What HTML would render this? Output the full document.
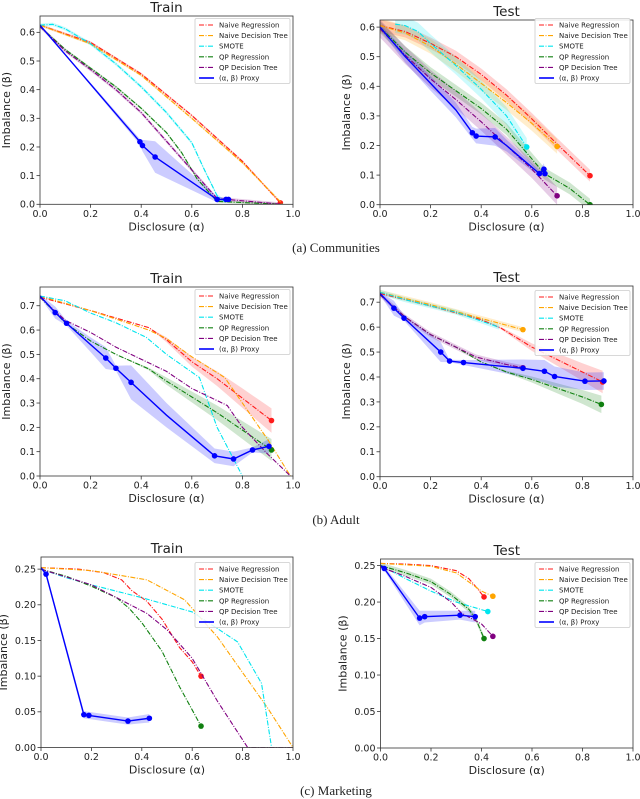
<!DOCTYPE html>
<html><head><meta charset="utf-8"><style>
body{margin:0;background:#fff}
svg{display:block}
text{font-family:"DejaVu Sans","Liberation Sans",sans-serif;fill:#222}
.cap{font-family:"Liberation Serif","DejaVu Serif",serif;font-size:13px}
</style></head><body>
<svg id="fig" width="640" height="799" viewBox="0 0 640 799" xmlns="http://www.w3.org/2000/svg">
<text class="cap" x="336" y="252" text-anchor="middle">(a) Communities</text>
<text class="cap" x="336" y="524" text-anchor="middle">(b) Adult</text>
<text class="cap" x="336" y="795" text-anchor="middle">(c) Marketing</text>
</svg>
<script>
const seriesNames = ["Naive Regression","Naive Decision Tree","SMOTE","QP Regression","QP Decision Tree","(α, β) Proxy"];
const seriesColors = ["#ff1a1a","#ffa500","#00e5ee","#108010","#800080","#0000ff"];
const xTicks = [0,0.2,0.4,0.6,0.8,1.0];
const yTicksA = [0,0.1,0.2,0.3,0.4,0.5,0.6];
const yTicksB = [0,0.1,0.2,0.3,0.4,0.5,0.6,0.7];
const yTicksC = [0,0.05,0.10,0.15,0.20,0.25];

// Communities train
const commTrainRed=[[0,0.625],[0.2,0.565],[0.4,0.455],[0.6,0.31],[0.8,0.15],[0.95,0.005]];
const commTrainOrange=[[0,0.625],[0.2,0.56],[0.4,0.45],[0.6,0.3],[0.8,0.145],[0.96,0]];
const commTrainCyan=[[0,0.625],[0.05,0.628],[0.1,0.612],[0.2,0.56],[0.3,0.49],[0.4,0.41],[0.5,0.32],[0.6,0.215],[0.65,0.12],[0.7,0.03],[0.73,0.01]];
const commTrainGreen=[[0,0.62],[0.1,0.54],[0.2,0.475],[0.3,0.41],[0.4,0.335],[0.5,0.25],[0.56,0.18],[0.62,0.09],[0.7,0.01],[0.96,0]];
const commTrainPurple=[[0,0.62],[0.1,0.535],[0.2,0.47],[0.3,0.4],[0.4,0.32],[0.5,0.22],[0.6,0.12],[0.7,0.02],[0.96,0]];
const commTrainProxy=[[0,0.625],[0.395,0.218],[0.405,0.205],[0.455,0.165],[0.7,0.017],[0.735,0.017],[0.745,0.017]];
const commTrainProxyBand=[0,0.01,0.02,0.055,0.01,0.005,0.005];
const commTrainProxyDots=[0,1,1,1,1,1,1];
const commTrainBands=[0.004,0.004,0.006,0.004,0.006];
const commTrainEnds=[true,false,false,false,false];

// Communities test
const commTestRed=[[0,0.605],[0.1,0.585],[0.2,0.545],[0.3,0.5],[0.4,0.44],[0.5,0.37],[0.6,0.29],[0.7,0.205],[0.83,0.098]];
const commTestOrange=[[0,0.605],[0.1,0.58],[0.2,0.535],[0.3,0.475],[0.4,0.41],[0.5,0.345],[0.6,0.275],[0.7,0.197]];
const commTestCyan=[[0.06,0.61],[0.1,0.605],[0.15,0.585],[0.2,0.545],[0.3,0.47],[0.4,0.39],[0.5,0.3],[0.58,0.195]];
const commTestGreen=[[0,0.6],[0.1,0.515],[0.2,0.445],[0.3,0.385],[0.4,0.325],[0.5,0.255],[0.6,0.155],[0.65,0.105],[0.75,0.055],[0.83,0]];
const commTestPurple=[[0,0.595],[0.1,0.505],[0.2,0.425],[0.3,0.355],[0.4,0.28],[0.5,0.2],[0.6,0.12],[0.7,0.03]];
const commTestProxy=[[0,0.6],[0.1,0.5],[0.2,0.41],[0.3,0.32],[0.365,0.243],[0.38,0.232],[0.455,0.229],[0.5,0.2],[0.63,0.105],[0.648,0.12],[0.652,0.105]];
const commTestProxyBand=[0.01,0.02,0.025,0.025,0.02,0.025,0.03,0.02,0.01,0.02,0.01];
const commTestProxyDots=[0,0,0,0,1,1,1,0,1,1,1];
const commTestBands=[0.02,0.025,0.03,0.02,0.03];
const commTestEnds=[true,true,true,true,true];

// Adult train
const adultTrainRed=[[0,0.735],[0.2,0.68],[0.43,0.61],[0.5,0.56],[0.6,0.47],[0.7,0.4],[0.8,0.32],[0.915,0.228]];
const adultTrainRedBand=[0,0,0,0.01,0.02,0.03,0.04,0.05];
const adultTrainOrange=[[0,0.74],[0.2,0.68],[0.43,0.6],[0.5,0.565],[0.6,0.49],[0.73,0.405],[0.8,0.3],[0.9,0.15],[0.99,0]];
const adultTrainCyan=[[0,0.74],[0.1,0.72],[0.2,0.67],[0.3,0.63],[0.42,0.57],[0.5,0.5],[0.63,0.405],[0.7,0.2],[0.8,0]];
const adultTrainGreen=[[0,0.735],[0.1,0.63],[0.2,0.555],[0.3,0.5],[0.43,0.44],[0.5,0.39],[0.7,0.26],[0.915,0.107]];
const adultTrainGreenBand=[0,0,0,0,0.005,0.015,0.03,0.045];
const adultTrainPurple=[[0,0.735],[0.1,0.64],[0.2,0.59],[0.3,0.53],[0.4,0.48],[0.5,0.43],[0.6,0.36],[0.74,0.29],[0.8,0.2],[0.9,0.09],[0.99,0]];
const adultTrainProxy=[[0,0.74],[0.06,0.672],[0.105,0.628],[0.2,0.54],[0.26,0.485],[0.3,0.443],[0.36,0.385],[0.5,0.25],[0.69,0.083],[0.765,0.07],[0.84,0.107],[0.905,0.122]];
const adultTrainProxyBand=[0.005,0.025,0.01,0.03,0.045,0.01,0.07,0.05,0.03,0.03,0.01,0.03];
const adultTrainProxyDots=[0,1,1,0,1,1,1,0,1,1,1,1];
const adultTrainBands=[adultTrainRedBand,0,0,adultTrainGreenBand,0];
const adultTrainEnds=[true,false,false,true,false];

// Adult test
const adultTestRed=[[0,0.735],[0.2,0.685],[0.4,0.63],[0.48,0.595],[0.6,0.52],[0.7,0.47],[0.8,0.42],[0.88,0.38]];
const adultTestRedBand=[0,0,0,0.005,0.015,0.025,0.035,0.045];
const adultTestOrange=[[0,0.74],[0.2,0.69],[0.4,0.635],[0.565,0.59]];
const adultTestCyan=[[0,0.74],[0.1,0.71],[0.2,0.685],[0.3,0.66],[0.47,0.6]];
const adultTestGreen=[[0,0.73],[0.1,0.64],[0.2,0.57],[0.3,0.52],[0.4,0.46],[0.5,0.42],[0.6,0.39],[0.7,0.355],[0.8,0.32],[0.875,0.29]];
const adultTestGreenBand=[0,0,0,0,0,0.005,0.012,0.02,0.028,0.035];
const adultTestPurple=[[0,0.73],[0.1,0.64],[0.2,0.57],[0.3,0.52],[0.38,0.48],[0.5,0.45],[0.565,0.437]];
const adultTestProxy=[[0,0.735],[0.055,0.676],[0.095,0.636],[0.24,0.5],[0.275,0.464],[0.33,0.458],[0.565,0.435],[0.65,0.423],[0.69,0.402],[0.81,0.383],[0.885,0.384]];
const adultTestProxyBand=[0.005,0.03,0.01,0.04,0.005,0.01,0.035,0.045,0.04,0.035,0.035];
const adultTestProxyDots=[0,1,1,1,1,1,1,1,1,1,1];
const adultTestBands=[adultTestRedBand,0.01,0.01,adultTestGreenBand,0.01];
const adultTestEnds=[true,true,false,true,true];

// Marketing train
const mktTrainRed=[[0,0.252],[0.15,0.25],[0.25,0.245],[0.32,0.235],[0.36,0.22],[0.42,0.205],[0.48,0.18],[0.55,0.14],[0.6,0.12],[0.635,0.1]];
const mktTrainOrange=[[0,0.252],[0.2,0.248],[0.42,0.235],[0.57,0.207],[0.7,0.155],[0.8,0.105],[0.9,0.055],[1.0,0]];
const mktTrainCyan=[[0,0.25],[0.1,0.238],[0.2,0.228],[0.4,0.21],[0.6,0.19],[0.78,0.148],[0.875,0.09],[0.915,0]];
const mktTrainGreen=[[0,0.25],[0.1,0.24],[0.2,0.226],[0.3,0.21],[0.35,0.195],[0.4,0.175],[0.48,0.135],[0.55,0.085],[0.635,0.03]];
const mktTrainPurple=[[0,0.25],[0.2,0.228],[0.3,0.21],[0.42,0.188],[0.5,0.165],[0.6,0.125],[0.7,0.065],[0.82,0],[1.0,0]];
const mktTrainProxy=[[0,0.252],[0.02,0.243],[0.17,0.046],[0.19,0.045],[0.345,0.037],[0.43,0.041]];
const mktTrainProxyBand=[0.002,0.004,0.005,0.005,0.005,0.006];
const mktTrainProxyDots=[0,1,1,1,1,1];
const mktTrainBands=[0.002,0.001,0.001,0.001,0.001];
const mktTrainEnds=[true,false,false,true,false];

// Marketing test
const mktTestRed=[[0,0.253],[0.1,0.252],[0.2,0.25],[0.3,0.243],[0.35,0.232],[0.38,0.22],[0.41,0.207]];
const mktTestOrange=[[0,0.253],[0.2,0.249],[0.3,0.24],[0.36,0.225],[0.4,0.215],[0.445,0.208]];
const mktTestCyan=[[0.04,0.243],[0.1,0.232],[0.2,0.215],[0.3,0.2],[0.425,0.187]];
const mktTestGreen=[[0,0.25],[0.1,0.24],[0.2,0.228],[0.28,0.21],[0.35,0.19],[0.38,0.175],[0.41,0.15]];
const mktTestPurple=[[0,0.248],[0.1,0.235],[0.2,0.22],[0.28,0.2],[0.32,0.185],[0.4,0.17],[0.445,0.153]];
const mktTestProxy=[[0,0.25],[0.015,0.246],[0.155,0.178],[0.175,0.18],[0.315,0.182],[0.375,0.18]];
const mktTestProxyBand=[0.002,0.003,0.01,0.008,0.006,0.008];
const mktTestProxyDots=[0,1,1,1,1,1];
const mktTestBands=[0.003,0.003,0.002,0.004,0.003];
const mktTestEnds=[true,true,true,true,true];

const NS="http://www.w3.org/2000/svg";
const svg=document.getElementById('fig');
function mk(tag,attrs,parent){const e=document.createElementNS(NS,tag);for(const k in attrs)e.setAttribute(k,attrs[k]);(parent||svg).appendChild(e);return e;}

function panel(cfg){
  const {L,R,T,B,ymax,yTicks,dec,title,key,series,bands,ends,proxy,proxyBand,proxyDots,legY}=cfg;
  const g=mk('g',{});
  
  
  const sx=v=>L+(R-L)*v, sy=v=>B-(B-T)*v/ymax;
  const clipId='clip-'+key;
  const cp=mk('clipPath',{id:clipId},g);mk('rect',{x:L,y:T,width:R-L,height:B-T},cp);
  const plot=mk('g',{'clip-path':'url(#'+clipId+')'},g);
  series.forEach((pts,i)=>{
    const bw=bands[i];
    const wAt=j=>Array.isArray(bw)?bw[j]:bw;
    if(!Array.isArray(bw)&&(!bw||bw<0.0035))return;
    const up=pts.map((p,j)=>sx(p[0])+','+sy(p[1]+wAt(j))), dn=pts.map((p,j)=>sx(p[0])+','+sy(p[1]-wAt(j))).reverse();
    const b=mk('polygon',{points:up.concat(dn).join(' '),fill:seriesColors[i],'fill-opacity':0.2,stroke:'none'},plot);
    
    
  });
  {
    const up=proxy.map((p,j)=>sx(p[0])+','+sy(p[1]+proxyBand[j])), dn=proxy.map((p,j)=>sx(p[0])+','+sy(p[1]-proxyBand[j])).reverse();
    const b=mk('polygon',{points:up.concat(dn).join(' '),fill:'#0000ff','fill-opacity':0.2,stroke:'none'},plot);
    
    
  }
  series.forEach((pts,i)=>{
    const l=mk('polyline',{points:pts.map(p=>sx(p[0])+','+sy(p[1])).join(' '),fill:'none',stroke:seriesColors[i],'stroke-width':1.1,'stroke-dasharray':'5,1.5,1,1.5'},plot);
    
    
    if(ends[i]){const p=pts[pts.length-1];
      const m=mk('circle',{cx:sx(p[0]),cy:sy(p[1]),r:2.8,fill:seriesColors[i]},plot);
      
      }
  });
  const pl=mk('polyline',{points:proxy.map(p=>sx(p[0])+','+sy(p[1])).join(' '),fill:'none',stroke:'#0000ff','stroke-width':1.4},plot);
  
  
  proxy.forEach((p,j)=>{ if(!proxyDots[j])return;
    const m=mk('circle',{cx:sx(p[0]),cy:sy(p[1]),r:2.8,fill:'#0000ff'},plot);
    
    });
  const fr=mk('rect',{x:L,y:T,width:R-L,height:B-T,fill:'none',stroke:'#333','stroke-width':0.8},g);
  
  
  xTicks.forEach(v=>{
    mk('line',{x1:sx(v),x2:sx(v),y1:B,y2:B+3.5,stroke:'#333','stroke-width':0.8},g);
    const t=mk('text',{x:sx(v),y:B+12.5,'text-anchor':'middle','font-size':9.5},g);t.textContent=v.toFixed(1);
    
    
  });
  yTicks.forEach(v=>{
    mk('line',{x1:L-3.5,x2:L,y1:sy(v),y2:sy(v),stroke:'#333','stroke-width':0.8},g);
    const t=mk('text',{x:L-5,y:sy(v)+3.4,'text-anchor':'end','font-size':9.5},g);t.textContent=v.toFixed(dec);
    
    
  });
  const xt=mk('text',{x:(L+R)/2,y:B+26,'text-anchor':'middle','font-size':11},g);xt.textContent='Disclosure (α)';
  
  
  const yx=L-(dec===2?34:30), ym=(T+B)/2;
  const yt=mk('text',{x:yx,y:ym,'text-anchor':'middle','font-size':11,transform:'rotate(-90 '+yx+' '+ym+')'},g);yt.textContent='Imbalance (β)';
  
  
  const tt=mk('text',{x:(L+R)/2,y:T-4,'text-anchor':'middle','font-size':13.5},g);tt.textContent=title;
  
  
  const lx=R-98, lg=mk('g',{},g);
  
  
  mk('rect',{x:lx,y:legY,width:95,height:65,fill:'#fff','fill-opacity':0.85,stroke:'#ccc','stroke-width':0.8,rx:1.5},lg);
  seriesNames.forEach((n,i)=>{
    const yy=legY+6.5+i*10.6;
    mk('line',{x1:lx+4,x2:lx+19,y1:yy,y2:yy,stroke:seriesColors[i],'stroke-width':i===5?1.6:1.1,'stroke-dasharray':i===5?'none':'5,1.5,1,1.5'},lg);
    const t=mk('text',{x:lx+24,y:yy+2.5,'font-size':7},lg);t.textContent=n;
    
    
  });
}
panel({key:'comm-train',title:'Train',L:40,R:293,T:16,B:204.3,ymax:0.657,yTicks:yTicksA,dec:1,series:[commTrainRed,commTrainOrange,commTrainCyan,commTrainGreen,commTrainPurple],bands:commTrainBands,ends:commTrainEnds,proxy:commTrainProxy,proxyBand:commTrainProxyBand,proxyDots:commTrainProxyDots,legY:18.5});
panel({key:'comm-test',title:'Test',L:380,R:633,T:20,B:204.7,ymax:0.624,yTicks:yTicksA,dec:1,series:[commTestRed,commTestOrange,commTestCyan,commTestGreen,commTestPurple],bands:commTestBands,ends:commTestEnds,proxy:commTestProxy,proxyBand:commTestProxyBand,proxyDots:commTestProxyDots,legY:18.5});
panel({key:'adult-train',title:'Train',L:40,R:293,T:287,B:476,ymax:0.777,yTicks:yTicksB,dec:1,series:[adultTrainRed,adultTrainOrange,adultTrainCyan,adultTrainGreen,adultTrainPurple],bands:adultTrainBands,ends:adultTrainEnds,proxy:adultTrainProxy,proxyBand:adultTrainProxyBand,proxyDots:adultTrainProxyDots,legY:289.5});
panel({key:'adult-test',title:'Test',L:380,R:633,T:286,B:476.7,ymax:0.765,yTicks:yTicksB,dec:1,series:[adultTestRed,adultTestOrange,adultTestCyan,adultTestGreen,adultTestPurple],bands:adultTestBands,ends:adultTestEnds,proxy:adultTestProxy,proxyBand:adultTestProxyBand,proxyDots:adultTestProxyDots,legY:290.5});
panel({key:'mkt-train',title:'Train',L:41,R:293,T:557,B:747.5,ymax:0.267,yTicks:yTicksC,dec:2,series:[mktTrainRed,mktTrainOrange,mktTrainCyan,mktTrainGreen,mktTrainPurple],bands:mktTrainBands,ends:mktTrainEnds,proxy:mktTrainProxy,proxyBand:mktTrainProxyBand,proxyDots:mktTrainProxyDots,legY:562.5});
panel({key:'mkt-test',title:'Test',L:380.5,R:633,T:559,B:748,ymax:0.259,yTicks:yTicksC,dec:2,series:[mktTestRed,mktTestOrange,mktTestCyan,mktTestGreen,mktTestPurple],bands:mktTestBands,ends:mktTestEnds,proxy:mktTestProxy,proxyBand:mktTestProxyBand,proxyDots:mktTestProxyDots,legY:562.5});
</script>
</body></html>
